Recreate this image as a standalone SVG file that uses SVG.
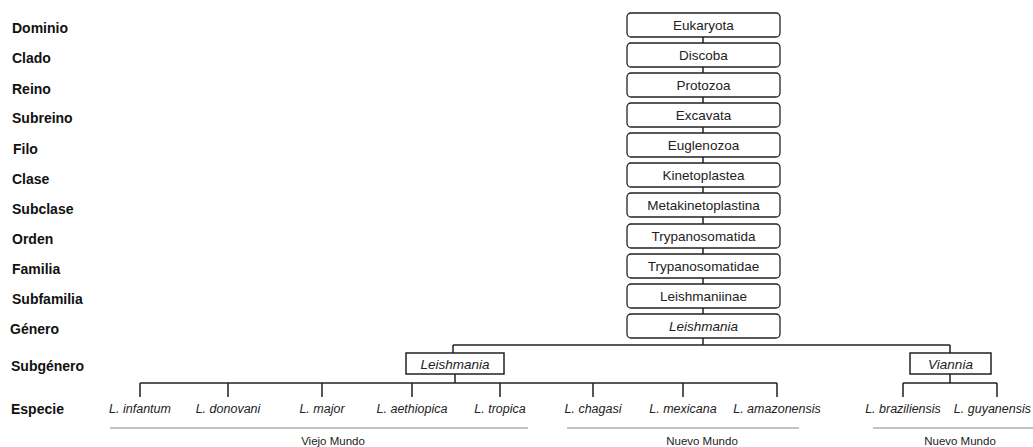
<svg xmlns="http://www.w3.org/2000/svg" width="1033" height="447" viewBox="0 0 1033 447">
<style>
.bg{fill:#fff}
.lbl{font-family:"Liberation Sans",Arial,sans-serif;font-weight:bold;font-size:14px;fill:#111}
.box{fill:#fff;stroke:#222;stroke-width:1.3}
.sbox{fill:#fff;stroke:#222;stroke-width:1.5}
.bt{font-family:"Liberation Sans",Arial,sans-serif;font-size:13.5px;fill:#222;text-anchor:middle}
.it{font-style:italic}
.sp{font-family:"Liberation Sans",Arial,sans-serif;font-style:italic;font-size:12.5px;fill:#222;text-anchor:middle}
.reg{font-family:"Liberation Sans",Arial,sans-serif;font-size:11.5px;fill:#222;text-anchor:middle}
.ln{stroke:#222;stroke-width:1.5;fill:none}
.gl{stroke:#888;stroke-width:1.2;fill:none}
</style>
<rect class="bg" x="0" y="0" width="1033" height="447"/>
<g id="labels">
<text class="lbl" x="12" y="33">Dominio</text>
<text class="lbl" x="12" y="63">Clado</text>
<text class="lbl" x="12" y="94">Reino</text>
<text class="lbl" x="12" y="123">Subreino</text>
<text class="lbl" x="13" y="154">Filo</text>
<text class="lbl" x="12" y="184">Clase</text>
<text class="lbl" x="12" y="214">Subclase</text>
<text class="lbl" x="12" y="244">Orden</text>
<text class="lbl" x="12" y="274">Familia</text>
<text class="lbl" x="12" y="304">Subfamilia</text>
<text class="lbl" x="10" y="334">Género</text>
<text class="lbl" x="11" y="371">Subgénero</text>
<text class="lbl" x="11" y="414">Especie</text>
</g>
<g id="connectors">
<path class="ln" d="M703 37V43M703 67V73M703 97V103M703 127V133M703 157V163M703 187V193M703 217V224M703 248V254M703 278V284M703 308V314"/>
<path class="ln" d="M703 338V345M453 345H950M453 345V353M950 345V353"/>
<path class="ln" d="M455 374V383M140 383H777M140 383V397M228 383V397M322 383V397M412 383V397M500 383V397M593 383V397M683 383V397M777 383V397"/>
<path class="ln" d="M950 374V383M903 383H997M903 383V397M997 383V397"/>
</g>
<g id="n-eukaryota"><rect class="box" x="627" y="13" width="153" height="24" rx="4"/><text class="bt" x="703.5" y="30">Eukaryota</text></g>
<g id="n-discoba"><rect class="box" x="627" y="43" width="153" height="24" rx="4"/><text class="bt" x="703.5" y="60">Discoba</text></g>
<g id="n-protozoa"><rect class="box" x="627" y="73" width="153" height="24" rx="4"/><text class="bt" x="703.5" y="90">Protozoa</text></g>
<g id="n-excavata"><rect class="box" x="627" y="103" width="153" height="24" rx="4"/><text class="bt" x="703.5" y="120">Excavata</text></g>
<g id="n-euglenozoa"><rect class="box" x="627" y="133" width="153" height="24" rx="4"/><text class="bt" x="703.5" y="150">Euglenozoa</text></g>
<g id="n-kinetoplastea"><rect class="box" x="627" y="163" width="153" height="24" rx="4"/><text class="bt" x="703.5" y="180">Kinetoplastea</text></g>
<g id="n-metakinetoplastina"><rect class="box" x="627" y="193" width="153" height="24" rx="4"/><text class="bt" x="703.5" y="210">Metakinetoplastina</text></g>
<g id="n-trypanosomatida"><rect class="box" x="627" y="224" width="153" height="24" rx="4"/><text class="bt" x="703.5" y="241">Trypanosomatida</text></g>
<g id="n-trypanosomatidae"><rect class="box" x="627" y="254" width="153" height="24" rx="4"/><text class="bt" x="703.5" y="271">Trypanosomatidae</text></g>
<g id="n-leishmaniinae"><rect class="box" x="627" y="284" width="153" height="24" rx="4"/><text class="bt" x="703.5" y="301">Leishmaniinae</text></g>
<g id="n-leishmania-genus"><rect class="box" x="627" y="314" width="153" height="24" rx="4"/><text class="bt it" x="703.5" y="331">Leishmania</text></g>
<g id="n-leishmania-sub"><rect class="sbox" x="406" y="353" width="98" height="21"/><text class="bt it" x="455" y="368.5">Leishmania</text></g>
<g id="n-viannia"><rect class="sbox" x="910" y="353" width="81" height="21"/><text class="bt it" x="950.5" y="368.5">Viannia</text></g>
<g id="species">
<text class="sp" x="140" y="413">L. infantum</text>
<text class="sp" x="228" y="413">L. donovani</text>
<text class="sp" x="322" y="413">L. major</text>
<text class="sp" x="412" y="413">L. aethiopica</text>
<text class="sp" x="500" y="413">L. tropica</text>
<text class="sp" x="593" y="413">L. chagasi</text>
<text class="sp" x="683" y="413">L. mexicana</text>
<text class="sp" x="777" y="413">L. amazonensis</text>
<text class="sp" x="903" y="413">L. braziliensis</text>
<text class="sp" x="1031" y="413" style="text-anchor:end">L. guyanensis</text>
</g>
<g id="regions">
<path class="gl" d="M110 428H528M567 428H799M873 428H1033"/>
<text class="reg" x="333" y="445">Viejo Mundo</text>
<text class="reg" x="702" y="445">Nuevo Mundo</text>
<text class="reg" x="960" y="445">Nuevo Mundo</text>
</g>
</svg>
